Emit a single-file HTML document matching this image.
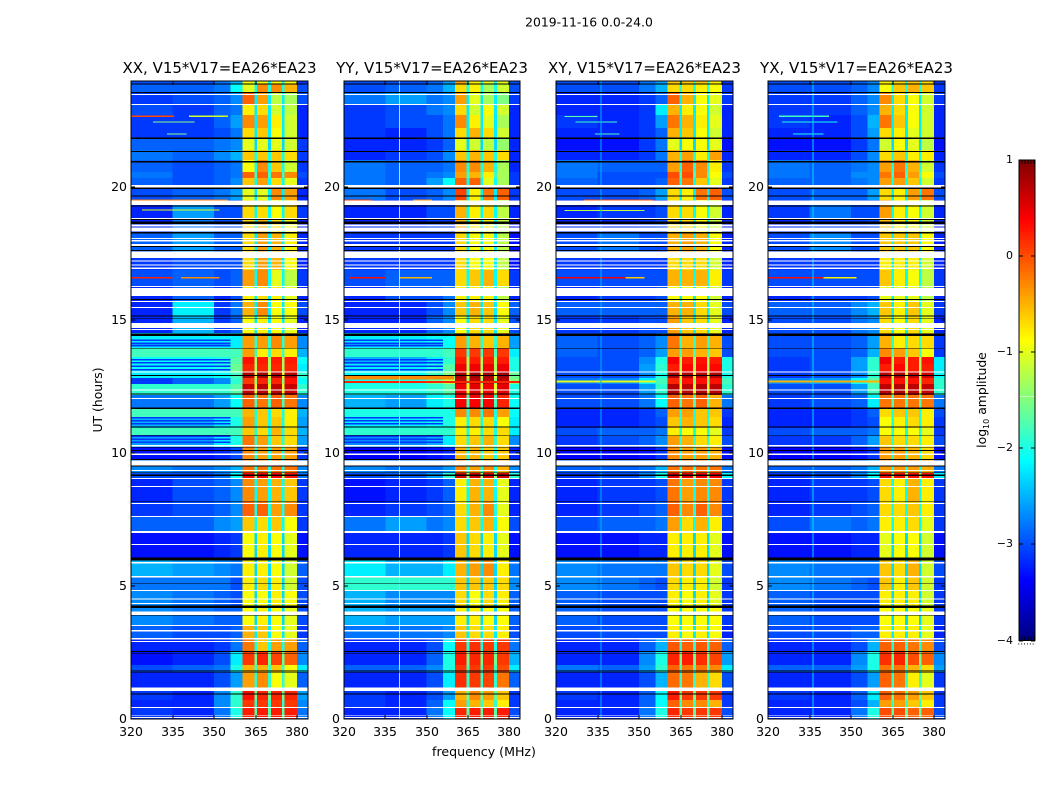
<!DOCTYPE html>
<html>
<head>
<meta charset="utf-8">
<title>2019-11-16 0.0-24.0</title>
<style>
html,body{margin:0;padding:0;background:#fff;}
svg{display:block;font-family:"DejaVu Sans","Liberation Sans",sans-serif;fill:#000;}
text{font-size:12.4px;}
</style>
</head>
<body>
<svg id="figure" xmlns="http://www.w3.org/2000/svg" width="1050" height="800" viewBox="0 0 1050 800">
<text x="589" y="26.5" text-anchor="middle">2019-11-16 0.0-24.0</text>
<text x="102" y="400" text-anchor="middle" transform="rotate(-90 102 400)">UT (hours)</text>
<text x="484" y="756" text-anchor="middle" style="font-size:12.6px">frequency (MHz)</text>
<text x="986" y="400" text-anchor="middle" transform="rotate(-90 986 400)">log<tspan dy="3" style="font-size:8px">10</tspan><tspan dy="-3"> amplitude</tspan></text>
<g id="panels"></g>
<g id="colorbar"></g>
</svg>
<script>
var panelTitles = ["XX, V15*V17=EA26*EA23","YY, V15*V17=EA26*EA23","XY, V15*V17=EA26*EA23","YX, V15*V17=EA26*EA23"];
var xTickLabels = [320,335,350,365,380];
var yTickLabels = [0,5,10,15,20];
var colorbarTicks = [1,0,-1,-2,-3,-4];

// frequency column boundaries, MHz
var columnEdges = [320,335,350,356,360.3,364.5,365.5,369.5,370.5,374.5,375.5,379.9,383.9];

// time band boundaries, hours (top to bottom)
var bandEdges = [24,23.89,23.55,23.14,22.72,22.23,21.82,21.41,21.03,20.58,20.35,19.98,19.53,18.85,18.32,17.34,16.89,16.25,15.69,15.16,14.52,13.96,13.62,13.36,13.05,12.83,12.60,12.19,11.70,11.36,10.95,10.65,10.23,9.74,9.25,9.03,8.16,7.60,7.04,6.06,5.34,4.85,4.25,3.54,3.05,2.52,2.03,1.77,1.09,0.71,0.41,0];

// log10 amplitude in the gaps between the four bright channels, per band
var gapLevels = [-2,-2,-2.2,-2.2,-2.2,-2.2,-2.3,-2,-2,-1.8,-2.1,-2.2,-2.1,-2.2,-2.2,-2.2,-2.1,-2.2,-2.2,-2.2,-1.9,-1.8,-1.3,-1.3,-1,-1.4,-1,-1.8,-2,-2,-2,-1.9,-2,-2,-1.4,-2.1,-2,-2.1,-2.3,-2.3,-2.3,-2.3,-2.3,-2.2,-2,-1.6,-1.8,-1.9,-1.6,-1.9,-1.7];

// log10 amplitude per band: 320-335, 335-350, 350-356, 356-360, ch1, ch2, ch3, ch4, 380-384
var levelsXX = [
[-3,-3,-2.8,-2.5,-.9,-.9,-.9,-.9,-3.1],
[-2.9,-2.9,-2.8,-2.1,-1,-.3,-.3,-.5,-3],
[-3.1,-3,-2.9,-2.7,-.1,-.4,-1.2,-1.3,-3],
[-3,-3.1,-2.9,-2.8,-.8,-.7,-1.1,-1.2,-3.2],
[-3.1,-3.1,-2.9,-2.6,-.3,-.4,-.8,-1.1,-3.2],
[-3.1,-3.1,-3,-2.8,-.7,-.6,-.9,-1.1,-3.2],
[-2.9,-2.9,-2.8,-2.7,-1,-1,-1,-1.1,-3.1],
[-2.8,-2.9,-2.7,-2.5,-.6,-.6,-.6,-.7,-3.1],
[-2.9,-3,-2.9,-2.8,-.9,-.3,-.6,-1.1,-3.1],
[-2.8,-3,-2.9,-2.8,-.1,-.1,-.2,-.3,-3],
[-2.9,-3,-2.9,-2.7,-.6,-.4,-.7,-1,-3.1],
[-3,-2.9,-2.8,-2.6,-1,-1,-.3,-.4,-3.2],
[-3.2,-2.6,-3,-3,-.7,-.7,-.9,-.7,-3.1],
[-3.2,-2.8,-3,-3,-.7,-.5,-.7,-.9,-3.2],
[-2.9,-2.6,-2.9,-2.9,-.7,-.4,-.5,-.8,-3.2],
[-3.1,-3,-3,-3,-.7,-.4,-.5,-.9,-3.2],
[-3,-2.9,-3,-2.9,-.4,-.3,-1,-1.2,-3.1],
[-3.2,-2.9,-3.2,-3,-.8,-.7,-.8,-1,-3.2],
[-3.2,-2.2,-3.1,-2.8,-.5,-.3,-.9,-.9,-3],
[-3.2,-2.5,-3.1,-2.9,-.9,-.8,-.9,-1,-3.2],
[-2.2,-2.2,-2.2,-2.2,-.4,-.4,-.3,-.4,-2.7],
[-1.8,-1.8,-1.8,-1.8,-.4,-.8,-.7,-.8,-2.5],
[-2.1,-2.1,-2,-1.7,.3,.25,.25,.25,-2.1],
[-2.1,-2.1,-2,-1.6,.2,.2,.2,.2,-2.2],
[-2.2,-2.2,-2.1,-1.8,.75,.8,.75,.7,-1.9],
[-3.1,-2.9,-2.7,-1.9,.1,.2,.2,.3,-2.1],
[-1.9,-1.9,-1.9,-1.7,.65,.7,.7,.65,-1.9],
[-2.8,-2.8,-2.6,-2.1,-.1,-.2,-.1,-.2,-2.7],
[-1.8,-1.8,-1.8,-1.8,-.5,-.6,-.7,-.8,-2.5],
[-2.5,-2.5,-2.2,-2,-.4,-.6,-.6,-.8,-2.6],
[-1.8,-1.8,-1.8,-1.8,-.6,-.7,-.5,-.7,-2.5],
[-2.6,-2.6,-2.2,-2,-.2,-.4,-.6,-.7,-2.6],
[-3.3,-3.3,-3.2,-3,-.3,-.4,-.4,-.4,-3.1],
[-2.7,-2.8,-2.7,-2.5,-.2,-.2,-.2,-.2,-2.7],
[-3,-3,-2.8,-2.1,.35,.4,.35,.3,-2.8],
[-3.2,-3,-2.9,-2.7,-.3,-.4,-.5,-.6,-3.1],
[-3.1,-3,-2.9,-2.7,-.1,-.1,-.4,-.3,-3.1],
[-2.9,-2.9,-2.7,-2.6,-.6,-.7,-.6,-.9,-3.1],
[-3.3,-3.3,-3.2,-3.1,-.9,-.8,-.9,-1,-3.3],
[-2.5,-2.6,-2.7,-2.8,-.8,-.8,-.9,-1.1,-2.9],
[-2.8,-2.8,-2.8,-3,-.8,-.7,-.8,-1.1,-3],
[-2.7,-2.8,-2.9,-3,-.9,-.9,-.8,-.9,-3],
[-2.7,-2.8,-2.9,-2.9,-.9,-.8,-.9,-1,-3],
[-2.9,-3,-3,-2.9,-.5,-.6,-.9,-1,-3.1],
[-3.2,-3.2,-3.1,-2.8,-.2,-.6,-.4,-.4,-2.9],
[-3.3,-3.2,-3,-2.2,.1,.2,.05,-.1,-2.7],
[-3,-2.9,-2.8,-2,-.5,-.5,-.6,-.9,-2.2],
[-3.2,-3.2,-3,-2.6,-.4,-.3,-.9,-1,-2.9],
[-3.1,-3.2,-2.7,-1.9,.3,.2,.2,.2,-2.6],
[-3.2,-3.2,-2.7,-1.9,.1,.1,.1,.1,-2.7],
[-3.1,-3.2,-2.8,-2,.25,.25,.25,.25,-2.8]
];
var levelsYY = [
[-3,-3,-2.9,-2.6,-.4,-.8,-1,-1,-3],
[-3,-2.9,-2.8,-2.5,-.7,-.8,-1.3,-1.1,-3],
[-2.8,-2.6,-2.8,-2.7,-.4,-1,-1.3,-1.5,-3.1],
[-3.1,-3,-2.8,-2.7,-.7,-1.1,-.9,-1.1,-3.2],
[-3.1,-3,-3,-2.8,-.3,-.8,-1,-1.3,-3.2],
[-3.1,-3.2,-3,-2.8,-.7,-.5,-.7,-1.1,-3.2],
[-3.2,-3.2,-3.1,-2.9,-1,-1.1,-1.2,-1.4,-3.2],
[-3.2,-3.1,-3,-2.7,-.6,-.5,-.6,-.7,-3.2],
[-2.8,-2.9,-2.9,-2.8,-.3,-.3,-.5,-1.3,-3.2],
[-2.8,-2.9,-2.8,-2.7,-.4,-.5,-.8,-1.3,-3.1],
[-2.8,-2.9,-2.6,-2.1,-.1,-.1,-1,-1.3,-3.1],
[-2.8,-3,-2.9,-2.7,.05,-.8,-.2,-.1,-3.1],
[-3.2,-3.2,-3,-3,-.5,-.8,-.7,-1.2,-3.2],
[-3.2,-3.2,-3.1,-3.1,-.5,-.8,-.8,-1.2,-3.3],
[-3.1,-3.1,-3.1,-3.1,-.7,-.9,-.9,-1.2,-3.3],
[-3.1,-3.1,-3.1,-3.1,-.7,-.9,-.9,-1.2,-3.3],
[-3,-2.9,-2.9,-2.9,-.7,-.6,-.5,-.7,-3.1],
[-3.2,-3,-3,-2.8,-.8,-.8,-.8,-1.2,-3.2],
[-3.2,-3.2,-3,-2.7,-.6,-.5,-.6,-.9,-2.9],
[-3.2,-3.2,-2.9,-2.7,-.9,-.7,-.7,-1,-3],
[-2.2,-2.2,-2.1,-2.1,-.4,-.5,-.6,-.5,-2.6],
[-1.9,-1.9,-1.9,-1.8,.1,.1,.1,.1,-2.2],
[-2.5,-2.5,-2.2,-1.9,.25,.25,.25,.25,-2],
[-2.2,-2.2,-2,-1.7,.45,.45,.45,.45,-2],
[-2.1,-2.1,-1.8,-1.5,.8,.85,.8,.8,-1.6],
[-2.1,-2,-1.6,-1.2,.7,.7,.7,.7,-1.5],
[-2,-2,-1.9,-1.7,.45,.5,.45,.5,-2],
[-2.5,-2.6,-2.2,-2,.4,.4,.4,.2,-2.1],
[-2,-2,-2,-2,-.3,-.3,-.2,-.4,-2.1],
[-2.2,-2.2,-2.1,-2,-.8,-.7,-.7,-.9,-2.2],
[-1.9,-1.9,-1.9,-1.9,-.8,-.8,-.7,-.7,-2.2],
[-2.7,-2.7,-2.5,-2.2,-.7,-.6,-.5,-.7,-2.7],
[-3.4,-3.4,-3.3,-3.2,-.5,-.5,-.6,-.6,-3.2],
[-2.7,-2.8,-2.8,-2.6,-.3,-.4,-.3,-.5,-2.7],
[-3,-2.9,-2.6,-1.9,.6,.6,.55,.6,-1.9],
[-3.3,-3.2,-3.1,-2.9,-.8,-.5,-.5,-1,-3.2],
[-3.2,-3.1,-3,-2.9,-.7,-.5,-.3,-1,-3.2],
[-2.8,-2.6,-2.8,-2.7,-.7,-.6,-.5,-.9,-3],
[-3.2,-3.2,-3.2,-3.1,-.6,-.7,-.8,-1,-3.3],
[-2.2,-2.5,-2.5,-2.2,-.5,-.4,-.3,-.8,-2.8],
[-1.9,-1.9,-1.9,-1.9,-.6,-.6,-.6,-.7,-2.7],
[-2.5,-2.7,-2.7,-2.7,-.7,-.9,-.7,-.8,-2.9],
[-2.5,-2.6,-2.6,-2.6,-.8,-.8,-.9,-.9,-2.9],
[-2.8,-2.8,-2.8,-2.7,-.6,-.7,-.7,-.8,-3],
[-3.2,-3.2,-3,-2.1,.1,.15,.1,.1,-2.8],
[-3.2,-3.2,-2.9,-2,.25,.2,.2,.1,-2.5],
[-2.9,-2.9,-2.7,-2,.1,.1,.1,0,-2.2],
[-3.2,-3.2,-3,-2.2,.15,.1,.05,-.2,-2.9],
[-3.1,-3.2,-3,-2.6,-.5,-.3,-.4,-.6,-3.1],
[-3.1,-3.2,-2.9,-2.1,-.4,-.5,-.6,-.8,-3.1],
[-3.2,-3.2,-2.8,-2.1,.2,.25,.25,.25,-3]
];
var levelsXY = [
[-3,-3,-2.8,-2.6,-.6,-.6,-.6,-.8,-3.1],
[-3,-3,-2.8,-2.5,-.7,-.7,-.8,-.9,-3.1],
[-3.2,-3.2,-3.1,-2.9,-.1,-.5,-.9,-1,-3.1],
[-3.2,-3.2,-3.1,-2.2,-.5,-.8,-.9,-1.1,-3.2],
[-3.1,-3.2,-3.1,-2.6,-.2,-.5,-.8,-1,-3.2],
[-3.2,-3.2,-3.1,-2.9,-.5,-.6,-.9,-1.1,-3.2],
[-3.3,-3.3,-3.1,-2.8,-1,-.9,-.9,-1,-3.3],
[-3.2,-3.2,-3.1,-2.8,-.5,-.4,-.8,-.4,-3.2],
[-2.8,-2.9,-2.9,-2.9,-.4,-.1,-.3,-.8,-3.1],
[-2.8,-3,-3,-3,0,0,-.3,-.9,-3],
[-2.9,-3,-3,-2.9,-.1,-.2,-.6,-1,-3.1],
[-3,-3,-2.9,-2.6,-.7,-.8,-.2,-.1,-3],
[-3.2,-3.1,-3.1,-3,-.7,-.7,-.9,-1.1,-3.2],
[-3.2,-3.2,-3.1,-3,-.7,-.7,-.9,-1.1,-3.2],
[-3,-2.8,-3,-3,-.5,-.4,-.5,-.9,-3.2],
[-3.1,-3.1,-3.1,-3.1,-.7,-.7,-.7,-1.1,-3.2],
[-3,-3,-3,-3,-.5,-.5,-.5,-.8,-3.1],
[-3.2,-3.1,-3.1,-3,-.9,-.9,-.9,-1.1,-3.2],
[-2.9,-2.9,-2.9,-2.9,-.5,-.5,-.7,-1,-3],
[-3.1,-3.1,-3,-3,-.4,-.6,-.7,-1,-3.2],
[-2.9,-3,-2.9,-2.7,-.2,-.5,-.4,-.5,-3],
[-2.9,-3,-2.9,-2.6,-.4,-.4,-.5,-.6,-3],
[-3,-3,-2.7,-2,.4,.25,.3,.25,-2],
[-3,-3,-2.6,-1.9,.25,.35,.35,.35,-2],
[-3,-3,-2.7,-2,.8,.75,.7,.75,-2],
[-2.8,-2.7,-2.2,-1.8,.2,.3,.3,.3,-1.8],
[-3,-3,-2.6,-1.9,.75,.7,.75,.7,-1.9],
[-3,-3,-2.8,-2.1,-.1,-.2,-.1,-.5,-2.8],
[-3.2,-3.2,-3.1,-2.9,-.4,-.4,-.6,-.6,-3.1],
[-3.2,-3.2,-3.1,-3,-.6,-.5,-.6,-.7,-3.2],
[-3,-2.9,-2.9,-2.8,-.8,-.9,-.9,-1,-3.1],
[-3.1,-3,-2.9,-2.7,-.4,-.5,-.7,-.8,-3],
[-3.4,-3.4,-3.3,-3.1,-.3,-.4,-.4,-.5,-3.3],
[-2.9,-2.9,-2.8,-2.5,-.2,-.2,-.2,-.2,-2.8],
[-3.1,-3,-2.7,-2,.5,.5,.45,.4,-2.1],
[-3.2,-3.1,-3.1,-3,-.2,-.4,-.3,-.3,-3.1],
[-3.2,-3.1,-3,-2.9,-.1,-.3,-.1,-.3,-3.1],
[-3,-2.9,-2.9,-2.8,-.4,-.7,-.5,-.8,-3.1],
[-3.3,-3.3,-3.2,-3.2,-.8,-.8,-.8,-1,-3.3],
[-2.7,-2.8,-2.8,-2.8,-.6,-.7,-.7,-1,-3],
[-2.7,-2.8,-2.9,-3,-.7,-.8,-.8,-1.1,-3.1],
[-2.9,-3,-3,-3,-.8,-.9,-.8,-1,-3.1],
[-2.9,-3,-3,-3,-.9,-.9,-.9,-.9,-3.1],
[-3,-3,-3,-3,-.8,-.9,-.8,-.9,-3.2],
[-3.2,-3.2,-2.9,-2.5,-.05,-.1,-.05,-.1,-2.9],
[-3.2,-3.2,-2.7,-2,.2,.25,.15,.05,-2.6],
[-2.8,-2.9,-2.6,-1.9,-.1,-.2,-.2,-.3,-2.2],
[-3.2,-3.2,-3,-2.5,-.15,-.2,-.5,-.7,-3],
[-3.1,-3.2,-2.9,-2.1,.25,.1,.1,.1,-3.1],
[-3.2,-3.2,-2.9,-2.1,-.1,-.3,-.3,-.5,-3.1],
[-3.2,-3.2,-2.8,-2,.2,.1,.1,.1,-3]
];
var levelsYX = [
[-3,-3,-2.9,-2.7,-.8,-.7,-.6,-.7,-3.1],
[-3,-3,-2.9,-2.7,-.9,-.6,-.5,-.6,-3.1],
[-3.1,-3.1,-2.9,-2.7,-.3,-.7,-.9,-1.1,-3.1],
[-3.1,-3.1,-2.9,-2.7,-.5,-.7,-.9,-1.1,-3.2],
[-3.1,-3.2,-3,-2.5,-.2,-.6,-.9,-1.1,-3.2],
[-3.2,-3.2,-3,-2.6,-.7,-.8,-1,-1.1,-3.2],
[-3.3,-3.3,-3.1,-2.8,-1.1,-.9,-1,-1.2,-3.3],
[-3.2,-3.2,-3,-2.7,-.7,-.6,-.8,-.8,-3.2],
[-2.8,-2.9,-2.8,-2.7,-.4,-.2,-.5,-1.1,-3.1],
[-2.8,-2.9,-2.7,-2.7,-.2,-.1,-.4,-.9,-3],
[-2.9,-2.9,-2.8,-2.7,-.4,-.4,-.6,-1.1,-3.1],
[-3,-2.9,-2.9,-2.6,-.7,-.8,-.4,-.2,-3],
[-3.1,-2.8,-3,-3,-.4,-.8,-.9,-1.1,-3.2],
[-3.2,-3.1,-3.1,-3,-.6,-.8,-.9,-1.1,-3.2],
[-3,-2.7,-3,-3,-.6,-.6,-.6,-.9,-3.2],
[-3.1,-3.1,-3.1,-3.1,-.8,-.8,-.8,-1.1,-3.2],
[-3,-3,-3,-3,-.6,-.8,-.9,-1.2,-3.1],
[-3.2,-3.1,-3.1,-3,-1,-1,-1,-1.2,-3.2],
[-2.9,-2.9,-2.7,-2.5,-.6,-.8,-.6,-1,-3.1],
[-3,-3,-2.8,-2.7,-.7,-.9,-.7,-1,-3.2],
[-3,-3,-2.9,-2.6,-.5,-.8,-.7,-.7,-3.1],
[-3,-3,-2.9,-2.5,-.3,-.4,-.6,-.9,-3.1],
[-3.1,-3,-2.6,-1.9,.45,.25,.25,.3,-2.2],
[-3.1,-3,-2.6,-1.9,.25,.35,.25,.25,-2.2],
[-3.1,-3,-2.7,-1.9,.7,.75,.7,.6,-2.1],
[-2.7,-2.6,-2.1,-1.7,.3,.3,.3,.2,-1.9],
[-3,-3,-2.6,-1.8,.7,.75,.7,.65,-1.9],
[-3.1,-3,-2.9,-2.2,-.2,-.2,-.2,-.2,-2.8],
[-3.2,-3.2,-3.1,-2.9,-.7,-.6,-.6,-.8,-3],
[-3.2,-3.2,-3.1,-3,-.9,-.8,-.7,-.8,-3.1],
[-3,-2.9,-2.9,-2.8,-.9,-.9,-.9,-1,-3.1],
[-3.1,-3.1,-2.9,-2.6,-.6,-.7,-.7,-.8,-3],
[-3.4,-3.4,-3.3,-3.1,-.4,-.4,-.5,-.7,-3.3],
[-2.9,-2.9,-2.8,-2.5,-.4,-.4,-.4,-.5,-2.8],
[-3.1,-3,-2.7,-2.1,.3,.3,.3,.3,-2.2],
[-3.2,-3.1,-3.1,-3,-.7,-.8,-.5,-.8,-3.1],
[-3.2,-3.1,-3,-2.9,-.7,-.7,-.6,-.8,-3.1],
[-3,-2.8,-2.9,-2.8,-.8,-.8,-.7,-1,-3.1],
[-3.3,-3.3,-3.2,-3.2,-1,-.9,-.9,-1.1,-3.3],
[-2.7,-2.8,-2.8,-2.8,-.6,-.7,-.5,-1.1,-3],
[-2.7,-2.8,-2.9,-3,-.6,-.8,-.6,-1.1,-3.1],
[-2.9,-3,-3,-3,-.8,-.8,-.8,-1.1,-3.1],
[-2.9,-3,-3,-3,-.9,-.9,-.9,-1,-3.1],
[-3,-3,-2.9,-2.9,-.8,-.8,-.8,-1,-3.2],
[-3.2,-3.2,-3,-2.5,-.1,-.1,-.2,-.3,-3],
[-3.2,-3.2,-2.7,-2,.15,.2,0,-.1,-2.7],
[-2.9,-2.9,-2.6,-2,-.2,-.2,-.5,-.7,-2.6],
[-3.2,-3.2,-3,-2.6,-.1,-.2,-.8,-1,-3.1],
[-3.1,-3.2,-2.9,-2.2,-.1,-.2,-.4,-.6,-3.1],
[-3.2,-3.2,-3,-2.5,-.4,-.4,-.6,-.8,-3.1],
[-3.2,-3.2,-2.8,-2,0,0,-.1,-.1,-3]
];
var panelLevels = [levelsXX, levelsYY, levelsXY, levelsYX];

// narrow-band interference: panel, hour from, hour to, MHz from, MHz to, log10 amplitude
var rfiLines = [
[0,22.65,22.70,320,335.5,0],[0,22.65,22.70,341,355,-1.1],[0,22.44,22.47,328,343,-1.5],[0,21.99,22.02,333,340,-1.5],
[0,19.51,19.55,320,355,-.2],[0,19.13,19.16,324,352,-1],[0,16.58,16.62,320,335,.2],[0,16.58,16.62,338,352,-.3],
[1,16.58,16.62,322,335,.3],[1,16.58,16.62,340,352,-.5],[1,19.51,19.55,320,330,.1],[1,19.51,19.55,345,352,-.3],
[1,12.78,12.90,320,360,-.3],[1,12.64,12.71,320,384,.2],
[2,16.58,16.62,320,345,.4],[2,16.58,16.62,345,352,-.6],[2,19.5,19.54,330,355,0],[2,19.11,19.14,323,352,-1.2],
[2,22.65,22.69,323,335,-1.7],[2,22.44,22.47,327,342,-1.8],[2,21.99,22.02,334,343,-1.8],[2,12.66,12.73,320,356,-1],
[3,16.58,16.62,320,340,.3],[3,16.58,16.62,340,352,-.8],[3,12.66,12.73,320,360,-.5],[3,22.65,22.70,324,342,-1.8],
[3,22.44,22.47,325,345,-2],[3,21.99,22.02,329,340,-2]
];

// thin dim rows inside the bright XX / YY low-frequency stretch
var stripePanels = [0,1];
var stripeHours = [14.25,14.13,14.05,13.51,13.40,13.27,13.14,11.33,11.22,11.11,10.63,10.52,10.41];
var stripeLevel = -3.1;

// persistent narrow channels: panel, MHz, log10 amplitude
var spurLines = [[1,340,-1.3],[2,336,-2.5],[3,336,-2.3]];

// flagged (blank) time ranges, hours
var whiteFlags = [[23.47,23.51],[23.10,23.14],[19.99,20.09],[19.34,19.51],[18.81,18.85],[18.52,18.61],[18.33,18.48],[18.06,18.10],[17.97,18.01],[17.80,17.86],[17.34,17.58],[17.21,17.25],[17.06,17.10],[16.93,16.98],[16.25,16.28],[15.91,16.22],[15.68,15.73],[15.46,15.50],[14.70,14.89],[14.63,14.67],[13.04,13.08],[12.35,12.39],[12.03,12.07],[10.26,10.30],[9.93,9.98],[9.54,9.72],[9.32,9.36],[9.03,9.07],[8.73,8.77],[8.09,8.13],[7.59,7.64],[7.00,7.07],[6.55,6.59],[5.85,5.90],[5.33,5.38],[4.82,4.86],[4.49,4.53],[4.33,4.36],[3.91,4.04],[3.50,3.54],[3.30,3.34],[2.99,3.05],[2.89,2.93],[1.05,1.18],[0.41,0.46],[0.11,0.14],[0.03,0.07]];

// fully dark time ranges, hours
var blackFlags = [[23.86,23.90],[23.54,23.58],[21.81,21.88],[21.33,21.36],[20.94,20.99],[19.94,19.99],[19.65,19.70],[19.28,19.32],[18.77,18.81],[18.62,18.72],[18.27,18.32],[17.75,17.79],[17.60,17.64],[15.76,15.80],[15.15,15.18],[15.06,15.09],[14.40,14.51],[13.93,13.96],[12.91,12.95],[12.20,12.24],[11.67,11.71],[10.96,11.00],[10.66,10.69],[10.19,10.22],[10.08,10.11],[9.75,9.79],[9.50,9.54],[9.27,9.30],[9.15,9.19],[8.16,8.19],[5.96,6.07],[5.09,5.12],[4.18,4.27],[3.89,3.91],[2.52,2.55],[2.46,2.49],[1.80,1.83],[1.75,1.78],[0.92,0.96]];

var NS = 'http://www.w3.org/2000/svg';
var AXIS_TOP = 81, AXIS_BOTTOM = 719, HOUR_MAX = 24;
var FREQ_MIN = 320, FREQ_MAX = 383.9;
var AXIS_LEFTS = [131,344,556,768], AXIS_WIDTHS = [177,176,177,177];
var CB_LEFT = 1019, CB_RIGHT = 1035, CB_TOP = 160, CB_BOTTOM = 640.5, CB_MIN = -4, CB_MAX = 1;

function yScale(hour){ return AXIS_BOTTOM - (hour / HOUR_MAX) * (AXIS_BOTTOM - AXIS_TOP); }
function xScale(panel, freq){ return AXIS_LEFTS[panel] + (freq - FREQ_MIN) / (FREQ_MAX - FREQ_MIN) * AXIS_WIDTHS[panel]; }
function cbScale(v){ return CB_BOTTOM - (v - CB_MIN) / (CB_MAX - CB_MIN) * (CB_BOTTOM - CB_TOP); }
function clip01(v){ return Math.max(0, Math.min(1, v)); }
function jet(level){
  var t = clip01((level - CB_MIN) / (CB_MAX - CB_MIN));
  var r = Math.round(255 * clip01(1.5 - Math.abs(4 * t - 3)));
  var g = Math.round(255 * clip01(1.5 - Math.abs(4 * t - 2)));
  var b = Math.round(255 * clip01(1.5 - Math.abs(4 * t - 1)));
  return 'rgb(' + r + ',' + g + ',' + b + ')';
}
function addRect(parent, x0, y0, x1, y1, fill, name){
  var el = document.createElementNS(NS, 'rect');
  el.setAttribute('x', x0.toFixed(2));
  el.setAttribute('y', y0.toFixed(2));
  el.setAttribute('width', Math.max(x1 - x0, 0).toFixed(2));
  el.setAttribute('height', Math.max(y1 - y0, 0).toFixed(2));
  el.setAttribute('fill', fill);
  el.setAttribute('shape-rendering', 'crispEdges');
  
  
  parent.appendChild(el);
  return el;
}
function addTick(parent, x0, y0, x1, y1, name){
  var el = document.createElementNS(NS, 'line');
  el.setAttribute('x1', x0);
  el.setAttribute('y1', y0);
  el.setAttribute('x2', x1);
  el.setAttribute('y2', y1);
  el.setAttribute('stroke', '#000');
  el.setAttribute('stroke-width', '1');
  el.setAttribute('shape-rendering', 'crispEdges');
  
  
  parent.appendChild(el);
}
function addText(parent, x, y, anchor, size, content, name){
  var el = document.createElementNS(NS, 'text');
  el.setAttribute('x', x);
  el.setAttribute('y', y);
  el.setAttribute('text-anchor', anchor);
  el.style.fontSize = size + 'px';
  el.textContent = content;
  
  
  parent.appendChild(el);
}

function drawPanel(p){
  var root = document.getElementById('panels');
  var g = document.createElementNS(NS, 'g');
  
  
  root.appendChild(g);
  var left = AXIS_LEFTS[p], right = left + AXIS_WIDTHS[p];
  var levels = panelLevels[p];

  for (var b = 0; b < levels.length; b++) {
    var row = levels[b];
    var gap = gapLevels[b];
    var cols = [row[0], row[1], row[2], row[3], row[4], gap, row[5], gap, row[6], gap, row[7], row[8]];
    for (var c = 0; c < cols.length; c++) {
      addRect(g, xScale(p, columnEdges[c]), yScale(bandEdges[b]), xScale(p, columnEdges[c + 1]), yScale(bandEdges[b + 1]), jet(cols[c]), 'heatmap-cell');
    }
  }
  if (stripePanels.indexOf(p) >= 0) {
    stripeHours.forEach(function(h){
      addRect(g, xScale(p, FREQ_MIN), yScale(h + 0.03), xScale(p, 356), yScale(h - 0.03), jet(stripeLevel), 'dim-stripe');
    });
  }
  rfiLines.forEach(function(r){
    if (r[0] === p) addRect(g, xScale(p, r[3]), yScale(r[2]), xScale(p, r[4]), yScale(r[1]), jet(r[5]), 'interference-line');
  });
  spurLines.forEach(function(s){
    if (s[0] === p) { var sx = xScale(p, s[1]); addRect(g, sx, AXIS_TOP, sx + 1, AXIS_BOTTOM, jet(s[2]), 'narrow-channel-line'); }
  });
  whiteFlags.forEach(function(f){
    addRect(g, left, yScale(f[1]), right, yScale(f[0]), '#fff', 'flagged-time-blank');
  });
  blackFlags.forEach(function(f){
    addRect(g, left, yScale(f[1]), right, yScale(f[0]), '#000', 'flagged-time-dark');
  });

  var frame = document.createElementNS(NS, 'rect');
  frame.setAttribute('x', left);
  frame.setAttribute('y', AXIS_TOP);
  frame.setAttribute('width', AXIS_WIDTHS[p]);
  frame.setAttribute('height', AXIS_BOTTOM - AXIS_TOP);
  frame.setAttribute('fill', 'none');
  frame.setAttribute('stroke', '#000');
  frame.setAttribute('stroke-width', '1');
  
  
  g.appendChild(frame);

  xTickLabels.forEach(function(v){
    var x = Math.round(xScale(p, v));
    addTick(g, x, AXIS_BOTTOM, x, AXIS_BOTTOM - 4, 'x-tick');
    addTick(g, x, AXIS_TOP, x, AXIS_TOP + 4, 'x-tick');
    addText(g, x, 736, 'middle', 12.5, String(v), 'x-tick-label');
  });
  yTickLabels.forEach(function(v){
    var y = Math.round(yScale(v));
    addTick(g, left, y, left + 4, y, 'y-tick');
    addTick(g, right, y, right - 4, y, 'y-tick');
    addText(g, left - 4, y + 4, 'end', 12.5, String(v), 'y-tick-label');
  });
  addText(g, left + AXIS_WIDTHS[p] / 2, 73, 'middle', 15, panelTitles[p], 'panel-title');
}

function drawColorbar(){
  var g = document.getElementById('colorbar');
  var steps = 240;
  for (var i = 0; i < steps; i++) {
    var lo = CB_MIN + (CB_MAX - CB_MIN) * i / steps;
    var hi = CB_MIN + (CB_MAX - CB_MIN) * (i + 1) / steps;
    addRect(g, CB_LEFT, cbScale(hi), CB_RIGHT, cbScale(lo), jet((lo + hi) / 2), 'colorbar-swatch');
  }
  var frame = document.createElementNS(NS, 'rect');
  frame.setAttribute('x', CB_LEFT);
  frame.setAttribute('y', CB_TOP);
  frame.setAttribute('width', CB_RIGHT - CB_LEFT);
  frame.setAttribute('height', CB_BOTTOM - CB_TOP);
  frame.setAttribute('fill', 'none');
  frame.setAttribute('stroke', '#000');
  frame.setAttribute('stroke-width', '1');
  
  
  g.appendChild(frame);
  colorbarTicks.forEach(function(v){
    var y = Math.round(cbScale(v));
    addTick(g, CB_LEFT, y, CB_LEFT + 4, y, 'colorbar-tick');
    addTick(g, CB_RIGHT, y, CB_RIGHT - 4, y, 'colorbar-tick');
    addText(g, 1013, y + 3, 'end', 11, (v < 0 ? '\u2212' + (-v) : String(v)), 'colorbar-tick-label');
  });
  for (var k = 1; k < 6; k++) {
    var tx = CB_LEFT + k * 3;
    addTick(g, tx, CB_TOP, tx, CB_TOP + 4, 'colorbar-edge-tick');
    addTick(g, tx, CB_BOTTOM, tx, CB_BOTTOM - 4, 'colorbar-edge-tick');
  }
  addText(g, 1026, 647, 'middle', 9, '\u00b7\u00b7\u00b7\u00b7\u00b7\u00b7', 'colorbar-empty-tick-labels');
}

for (var pi = 0; pi < panelTitles.length; pi++) { drawPanel(pi); }
drawColorbar();
</script>
</body>
</html>
